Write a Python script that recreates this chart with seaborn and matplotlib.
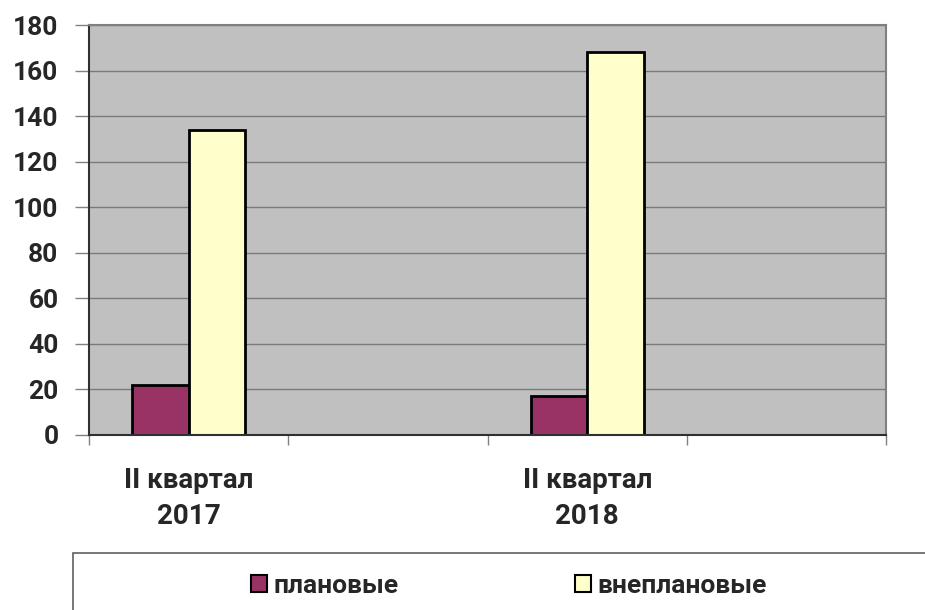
import pandas as pd
import matplotlib.pyplot as plt
import matplotlib.patches as mpatches
from matplotlib.ticker import FixedLocator
import seaborn as sns

# Данные диаграммы
periods = ["II квартал\n2017", "II квартал\n2018"]
slots = ["II квартал\n2017", " ", "II квартал\n2018", "  "]
planovye = [22, 17]
vneplanovye = [134, 168]
series_names = ["плановые", "внеплановые"]
colors = ["#993366", "#FFFFCC"]
y_ticks = [0, 20, 40, 60, 80, 100, 120, 140, 160, 180]

sns.set_theme(style="white")
plt.rcParams['font.family'] = ['Roboto', 'DejaVu Sans']
plt.rcParams['font.weight'] = 'bold'

df = pd.DataFrame({
    "period": periods * 2,
    "series": [series_names[0]] * 2 + [series_names[1]] * 2,
    "value": planovye + vneplanovye,
})

fig = plt.figure(figsize=(9.25, 6.1), dpi=100)
ax = fig.add_axes([0.0962, 0.287, 0.862, 0.672])

sns.barplot(data=df, x="period", y="value", hue="series", order=slots,
            hue_order=series_names, palette=colors, width=0.57,
            edgecolor="black", linewidth=2, saturation=1, legend=False, ax=ax)

ax.set_facecolor("#C0C0C0")
ax.set_ylim(0, 180)
ax.set_xlim(-0.5, 3.5)
ax.set_yticks(y_ticks)
ax.yaxis.grid(True, color="#7a7a7a", linewidth=1)
ax.set_axisbelow(True)
ax.set_xlabel("")
ax.set_ylabel("")

# подписи по центру категорий, засечки на границах
ax.set_xticks(range(len(slots)))
ax.set_xticklabels(slots, fontsize=20, fontweight="bold", linespacing=1.42)
ax.xaxis.set_minor_locator(FixedLocator([-0.5, 0.5, 1.5, 2.5, 3.5]))
ax.tick_params(axis="x", which="major", length=0, pad=23)
ax.tick_params(axis="x", which="minor", length=7, width=1, color="#808080", bottom=True)
ax.tick_params(axis="y", length=10, width=1, color="#808080", left=True, pad=12, labelsize=19)
for lab in ax.get_yticklabels():
    lab.set_fontweight("bold")

for side in ["top", "right"]:
    ax.spines[side].set_color("#808080")
    ax.spines[side].set_linewidth(1.5)
for side in ["left", "bottom"]:
    ax.spines[side].set_color("#303030")
    ax.spines[side].set_linewidth(1.5)

# рамка легенды внизу
fig.patches.append(mpatches.Rectangle((73 / 925, -0.01), 1.0, (610 - 553) / 610 + 0.01,
                                      transform=fig.transFigure, facecolor="white",
                                      edgecolor="#606060", linewidth=1.2))
handles = [mpatches.Patch(facecolor=c, edgecolor="black", linewidth=1.5, label=n)
           for c, n in zip(colors, series_names)]
fig.legend(handles=handles, loc="center", bbox_to_anchor=(509 / 925, 1 - 586 / 610),
           ncol=2, frameon=False, prop={"size": 19, "weight": "bold"},
           handlelength=0.6, handleheight=0.6, handletextpad=0.25, columnspacing=6.7)

fig.savefig("out.png", dpi=100)
